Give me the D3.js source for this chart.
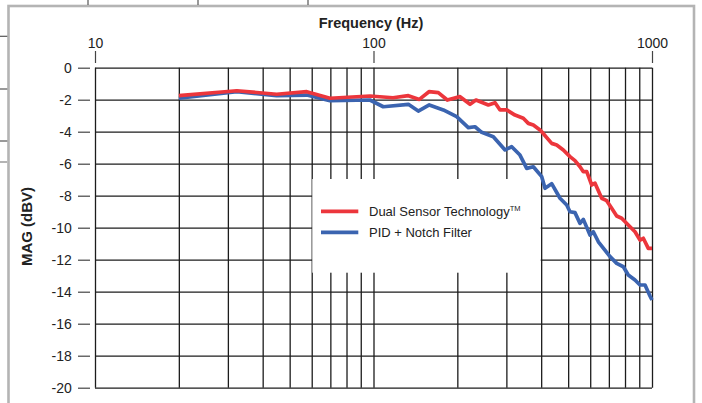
<!DOCTYPE html>
<meta charset="utf-8">
<head>
    <style>
        body{
            margin: 0;
            background-color: #ffffff;
        }
        svg text{
            font-family: "Liberation Sans", Arial, sans-serif;
            fill: #222;
        }
        .grid line {
            stroke: #1c1c1c;
            stroke-width: 1.3;
        }
        .grid path {
            stroke-width: 0;
        }
    </style>
</head>
<body>
<div id="bode"></div>

<script src="https://d3js.org/d3.v7.min.js"></script>
<script>

    // frequency response (Hz / dBV)
    const redFreq = [20, 32.3, 44.9, 57.6, 69.8, 97.1, 117.5, 133.4, 146.1, 158.2, 170.9, 184.1, 204.5,
        222.1, 233.3, 258.4, 273.2, 284.7, 300.9, 322.2, 345.1, 359.7, 374.9, 396.2, 401.8, 436.3, 454.8,
        480.3, 507.6, 529.0, 551.5, 566.8, 583.0, 607.5, 624.3, 659.8, 687.6, 716.6, 746.9, 778.4, 821.9,
        868.9, 905.6, 930.6, 969.8, 1000];
    const redMag = [-1.75, -1.44, -1.66, -1.5, -1.91, -1.77, -1.88, -1.75, -1.98, -1.5, -1.56, -2.02, -1.81,
        -2.29, -2.02, -2.33, -2.19, -2.64, -2.64, -2.96, -3.16, -3.48, -3.58, -3.89, -4.0, -4.73, -4.83,
        -5.14, -5.56, -5.81, -6.19, -6.5, -6.5, -7.33, -7.22, -8.16, -8.31, -8.79, -9.27, -9.41, -9.83,
        -10.25, -10.77, -10.66, -11.29, -11.29];

    const blueFreq = [20, 32.3, 44.9, 57.6, 69.8, 97.1, 108.4, 133.4, 144.8, 158.6, 178.1, 198.9, 219.0,
        231.4, 244.6, 269.3, 296.7, 313.5, 335.7, 354.9, 374.9, 401.8, 412.9, 436.3, 467.4, 494.0, 507.6,
        529.0, 551.5, 566.8, 599.0, 615.7, 641.8, 706.9, 746.9, 789.0, 821.9, 868.9, 905.6, 944.0, 983.5,
        1000];
    const blueMag = [-1.91, -1.5, -1.75, -1.71, -2.06, -2.02, -2.44, -2.29, -2.71, -2.33, -2.64, -3.06, -3.75,
        -3.69, -4.04, -4.31, -5.14, -4.94, -5.46, -6.29, -6.19, -6.81, -7.54, -7.25, -8.16, -8.58, -9.0,
        -9.06, -9.73, -9.48, -10.46, -10.25, -10.88, -11.81, -12.23, -12.44, -12.96, -13.27, -13.58, -13.58,
        -14.27, -14.52];

    const seriesNames = ["Dual Sensor Technology", "PID + Notch Filter"];
    const seriesColors = ["#ec363c", "#3b64b0"];

    const decadeLabels = [10, 100, 1000];
    const magTicks = [0, -2, -4, -6, -8, -10, -12, -14, -16, -18, -20];
    const gridFreqs = [10, 20, 30, 40, 50, 60, 70, 80, 90, 100, 200, 300, 400, 500, 600, 700, 800, 900, 1000];

    // set the dimensions and margins of the graph
    const W = 702, H = 403;
    const margin = {top: 67.7, right: 50, bottom: 15.3, left: 95},
        width = W - margin.left - margin.right,
        height = H - margin.top - margin.bottom;

    const svg = d3.select("#bode")
        .append("svg")
        .attr("width", W)
        .attr("height", H);

    // leftovers of the page around the figure
    svg.append("rect")
        .attr("x", 8.5).attr("y", 6)
        .attr("width", 685.5).attr("height", 430)
        .attr("fill", "none")
        .attr("stroke", "#b4b4b4")
        .attr("stroke-width", 2.6);
    [88, 198, 308].forEach(function(px) {
        svg.append("line").attr("x1", px).attr("x2", px).attr("y1", 0).attr("y2", 5)
            .attr("stroke", "#555").attr("stroke-width", 1.2);
    });
    [36.3, 89, 141].forEach(function(py) {
        svg.append("line").attr("x1", 0).attr("x2", 7.3).attr("y1", py).attr("y2", py)
            .attr("stroke", "#555").attr("stroke-width", 1.2);
    });
    svg.append("line").attr("x1", 0).attr("x2", 7.3).attr("y1", 162).attr("y2", 162)
        .attr("stroke", "#b4b4b4").attr("stroke-width", 2);

    const g = svg.append("g")
        .attr("transform", `translate(${margin.left}, ${margin.top})`);

    // scales
    const x = d3.scaleLog()
        .domain([10, 1000])
        .range([0, width]);
    const y = d3.scaleLinear()
        .domain([-20, 0])
        .range([height, 0]);

    // vertical gridlines
    g.append("g")
        .attr("class", "grid")
        .attr("transform", `translate(0, ${height})`)
        .call(d3.axisBottom(x)
            .tickValues(gridFreqs)
            .tickSize(-height)
            .tickFormat("")
        );

    // horizontal gridlines
    g.append("g")
        .attr("class", "grid")
        .call(d3.axisLeft(y)
            .tickValues(magTicks)
            .tickSize(-width)
            .tickFormat("")
        );

    // top axis, decades only
    const topAxis = g.append("g")
        .attr("transform", "translate(0, -4.7)")
        .call(d3.axisTop(x)
            .tickValues(decadeLabels)
            .tickSize(12)
            .tickPadding(3)
            .tickFormat(function(d) { return String(d); })
        );
    topAxis.select(".domain").remove();
    topAxis.selectAll("line").attr("stroke", "#444").attr("stroke-width", 1.2);
    topAxis.selectAll("text")
        .attr("font-size", "14px")
        .attr("fill", "#222");

    // left axis
    const leftAxis = g.append("g")
        .attr("transform", "translate(-5, 0)")
        .call(d3.axisLeft(y)
            .tickValues(magTicks)
            .tickSize(12)
            .tickPadding(6.3)
            .tickFormat(function(d) { return String(d); })
        );
    leftAxis.select(".domain").remove();
    leftAxis.selectAll("line").attr("stroke", "#444").attr("stroke-width", 1.2);
    leftAxis.selectAll("text")
        .attr("font-size", "14px")
        .attr("fill", "#222");

    // axis titles
    svg.append("text")
        .attr("x", 371)
        .attr("y", 27.5)
        .attr("text-anchor", "middle")
        .attr("font-size", "14.5px")
        .attr("font-weight", "bold")
        .text("Frequency (Hz)");

    svg.append("text")
        .attr("transform", "translate(32, 226.5) rotate(-90)")
        .attr("text-anchor", "middle")
        .attr("font-size", "15px")
        .attr("font-weight", "bold")
        .text("MAG (dBV)");

    // white legend panel sitting over the grid
    g.append("rect")
        .attr("x", 217.3)
        .attr("y", 111.3)
        .attr("width", 228.4)
        .attr("height", 93.7)
        .attr("fill", "white");

    // the two curves
    const line = d3.line()
        .x(function(d) { return x(d[0]); })
        .y(function(d) { return y(d[1]); });

    g.append("path")
        .datum(d3.zip(blueFreq, blueMag))
        .attr("fill", "none")
        .attr("stroke", seriesColors[1])
        .attr("stroke-width", 3.7)
        .attr("stroke-linejoin", "round")
        .attr("d", line);

    g.append("path")
        .datum(d3.zip(redFreq, redMag))
        .attr("fill", "none")
        .attr("stroke", seriesColors[0])
        .attr("stroke-width", 3.7)
        .attr("stroke-linejoin", "round")
        .attr("d", line);

    // legend
    const legend = g.append("g")
        .attr("transform", "translate(226, 143.6)");
    seriesNames.forEach(function(name, i) {
        legend.append("line")
            .attr("x1", 0).attr("x2", 37.3)
            .attr("y1", i * 21).attr("y2", i * 21)
            .attr("stroke", seriesColors[i])
            .attr("stroke-width", 3.7);
        const t = legend.append("text")
            .attr("x", 48)
            .attr("y", i * 21 + 4.6)
            .attr("font-size", "13px")
            .text(name);
        if (i === 0) {
            t.append("tspan")
                .attr("dy", -5)
                .attr("font-size", "7.5px")
                .text("TM");
        }
    });

</script>
</body>
